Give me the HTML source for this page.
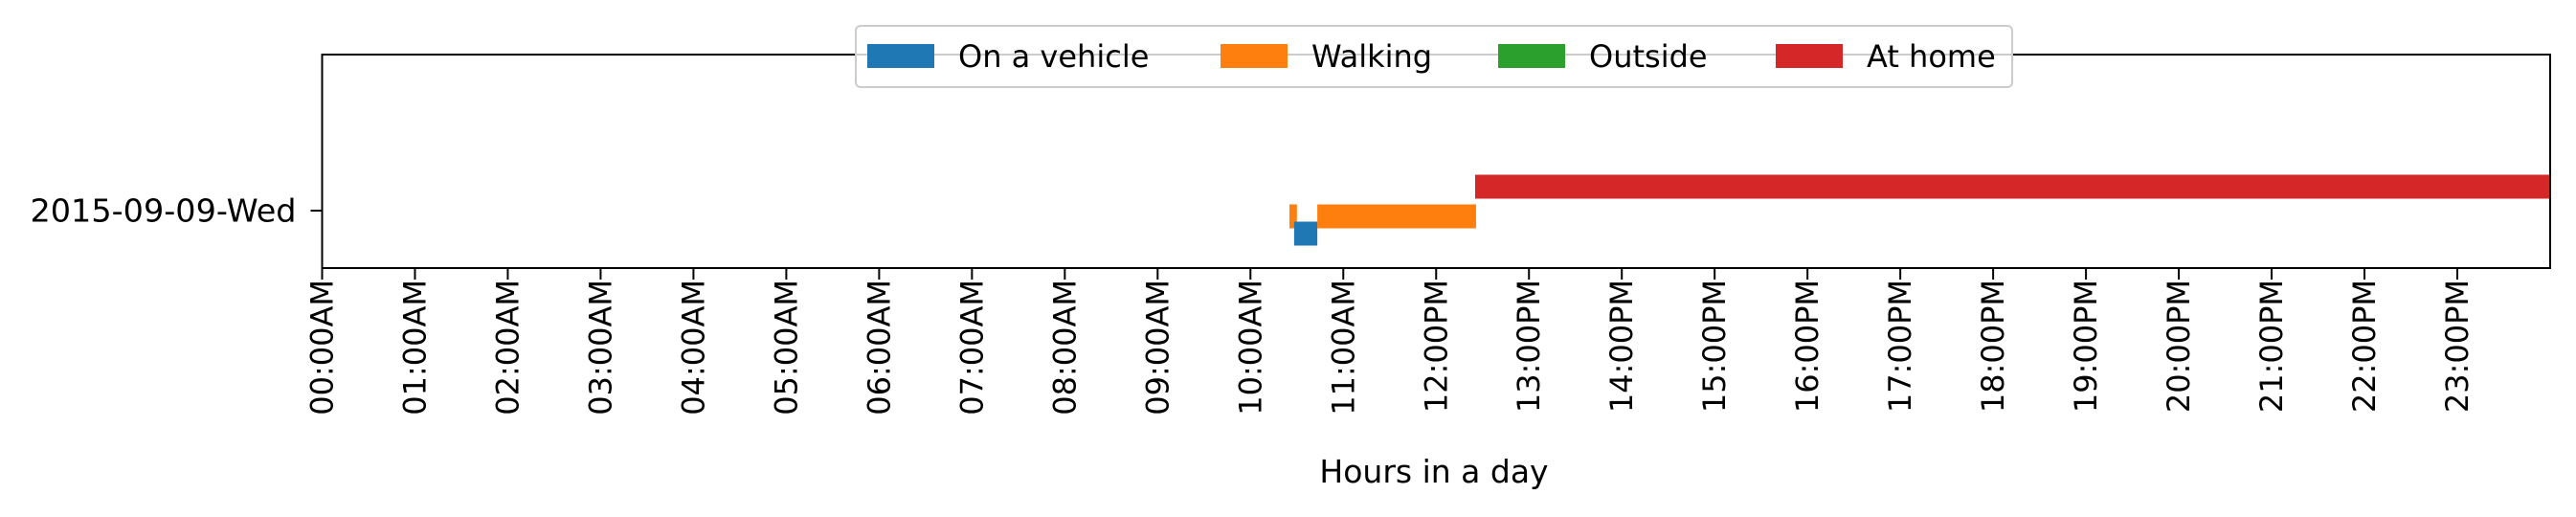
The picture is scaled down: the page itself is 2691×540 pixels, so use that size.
<!DOCTYPE html>
<html><head><meta charset="utf-8">
<style>
html,body{margin:0;padding:0;background:#fff;}
svg{display:block;font-family:"DejaVu Sans","Liberation Sans",sans-serif;}
</style></head>
<body>
<svg id="chart" width="2691" height="540" viewBox="0 0 2691 540" xmlns="http://www.w3.org/2000/svg">
<g id="bars"></g>
<g id="axes"></g>
<g id="legend"></g>
</svg>
<script>
const days = ["2015-09-09-Wed"];
const categories = ["On a vehicle","Walking","Outside","At home"];
const colors = ["#1f77b4","#ff7f0e","#2ca02c","#d62728"];
const segCategory = [3, 1, 1, 0];
const segStart = [12.42, 10.42, 10.72, 10.47];
const segEnd = [24.0, 10.50, 12.43, 10.72];
const tickHours = [0,1,2,3,4,5,6,7,8,9,10,11,12,13,14,15,16,17,18,19,20,21,22,23];
const tickLabels = ["00:00AM","01:00AM","02:00AM","03:00AM","04:00AM","05:00AM","06:00AM","07:00AM","08:00AM","09:00AM","10:00AM","11:00AM","12:00PM","13:00PM","14:00PM","15:00PM","16:00PM","17:00PM","18:00PM","19:00PM","20:00PM","21:00PM","22:00PM","23:00PM"];

const NS="http://www.w3.org/2000/svg";
const L=336.5, R=2664, T=57, B=280;
const xs = h => L + (R-L)*h/24;
const ys = i => 220 + i*60;
const catOffset = [24, 6, 0, -25];
const barH = 25;
function mk(tag, attrs, parent){const e=document.createElementNS(NS,tag);for(const k in attrs)e.setAttribute(k,attrs[k]);parent.appendChild(e);return e;}

const gb=document.getElementById('bars');
for(let i=0;i<segStart.length;i++){
  const c=segCategory[i];
  const r=mk('rect',{x:xs(segStart[i]),y:ys(0)+catOffset[c]-barH/2,width:xs(segEnd[i])-xs(segStart[i]),height:barH,fill:colors[c]},gb);
  
  
}

const ga=document.getElementById('axes');
const frame=mk('rect',{x:L,y:T,width:R-L,height:B-T,fill:'none',stroke:'#000','stroke-width':2},ga);


tickHours.forEach((h,i)=>{
  const x=xs(h);
  const t=mk('line',{x1:x,x2:x,y1:B,y2:B+12,stroke:'#000','stroke-width':2},ga);
  
  
  const tx=mk('text',{x:0,y:0,'font-size':32,'text-anchor':'end','dominant-baseline':'central',transform:`translate(${x},${B+12}) rotate(-90)`},ga);
  tx.textContent=tickLabels[i];
  
  
});
days.forEach((d,i)=>{
  const y=ys(i);
  const t=mk('line',{x1:L-12,x2:L,y1:y,y2:y,stroke:'#000','stroke-width':2},ga);
  
  
  const tx=mk('text',{x:L-27,y:y,'font-size':33,'text-anchor':'end','dominant-baseline':'central',textLength:278,lengthAdjust:'spacingAndGlyphs'},ga);
  tx.textContent=d;
  
  
});
const xl=mk('text',{x:1498,y:504,'font-size':33,'text-anchor':'middle'},ga);
xl.textContent="Hours in a day";



const gl=document.getElementById('legend');
const lb=mk('rect',{x:894,y:27,width:1208,height:64,rx:5,fill:'#fff','fill-opacity':0.8,stroke:'#ccc','stroke-width':2},gl);


const patchX=[906,1275,1565,1855];
categories.forEach((c,i)=>{
  const p=mk('rect',{x:patchX[i],y:46,width:70,height:25,fill:colors[i]},gl);
  
  
  const t=mk('text',{x:patchX[i]+95,y:59,'font-size':32,'dominant-baseline':'central'},gl);
  t.textContent=c;
  
  
});
</script>
</body></html>
